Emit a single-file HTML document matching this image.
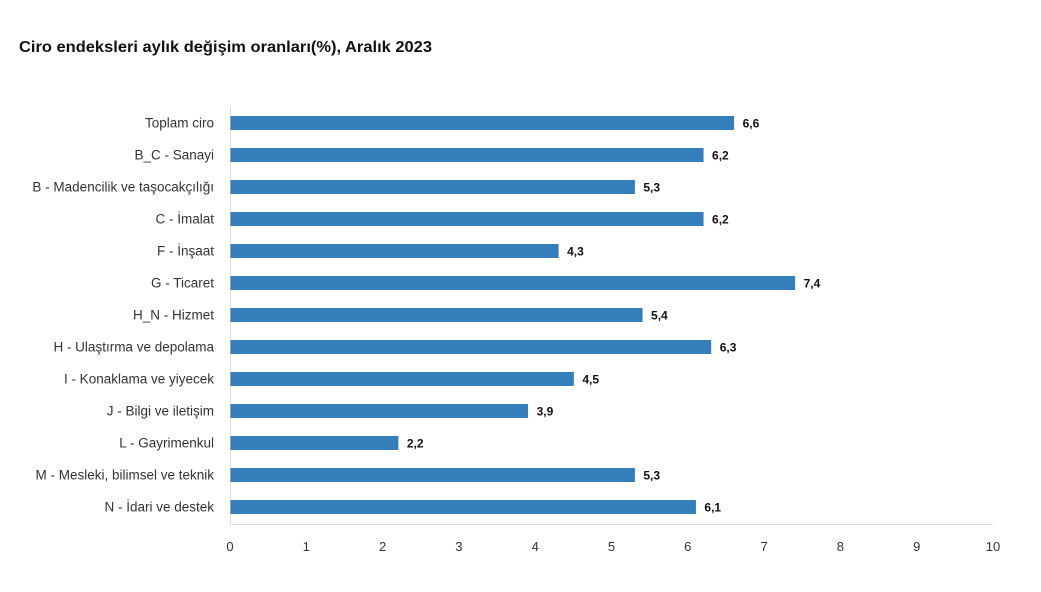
<!DOCTYPE html>
<html><head><meta charset="utf-8"><style>
body{margin:0;background:#fff;}
svg{display:block;font-family:"Liberation Sans",sans-serif;}
</style></head><body>
<svg width="1041" height="592" viewBox="0 0 1041 592">
<text x="19" y="52" font-size="16" font-weight="bold" fill="#111" textLength="413" lengthAdjust="spacingAndGlyphs">Ciro endeksleri aylık değişim oranları(%), Aralık 2023</text>
<line x1="230.5" y1="106" x2="230.5" y2="525" stroke="#ddd"/>
<line x1="230" y1="524.5" x2="993" y2="524.5" stroke="#ddd"/>
<g font-size="13" fill="#333" text-anchor="middle">
<text x="230" y="551">0</text><text x="306.3" y="551">1</text><text x="382.6" y="551">2</text><text x="458.9" y="551">3</text><text x="535.2" y="551">4</text><text x="611.5" y="551">5</text><text x="687.8" y="551">6</text><text x="764.1" y="551">7</text><text x="840.4" y="551">8</text><text x="916.7" y="551">9</text><text x="993" y="551">10</text>
</g>
<g id="bars" font-size="13.5"></g>
</svg>
<script>
var d=[["Toplam ciro",6.6],["B_C - Sanayi",6.2],["B - Madencilik ve taşocakçılığı",5.3],["C - İmalat",6.2],["F - İnşaat",4.3],["G - Ticaret",7.4],["H_N - Hizmet",5.4],["H - Ulaştırma ve depolama",6.3],["I - Konaklama ve yiyecek",4.5],["J - Bilgi ve iletişim",3.9],["L - Gayrimenkul",2.2],["M - Mesleki, bilimsel ve teknik",5.3],["N - İdari ve destek",6.1]];
var g=document.getElementById('bars'),h='';
d.forEach(function(r,i){var y=123+32*i,w=r[1]*76.3;
h+='<text x="214" y="'+(y+4.5)+'" text-anchor="end" fill="#333">'+r[0]+'</text>';
h+='<rect x="230.5" y="'+(y-7)+'" width="'+w+'" height="14" fill="#337ebb"/>';
h+='<text x="'+(230+w+9)+'" y="'+(y+4.5)+'" font-size="12" font-weight="bold" fill="#111">'+r[1].toFixed(1).replace('.',',')+'</text>';});
g.innerHTML=h;
</script>
</body></html>
